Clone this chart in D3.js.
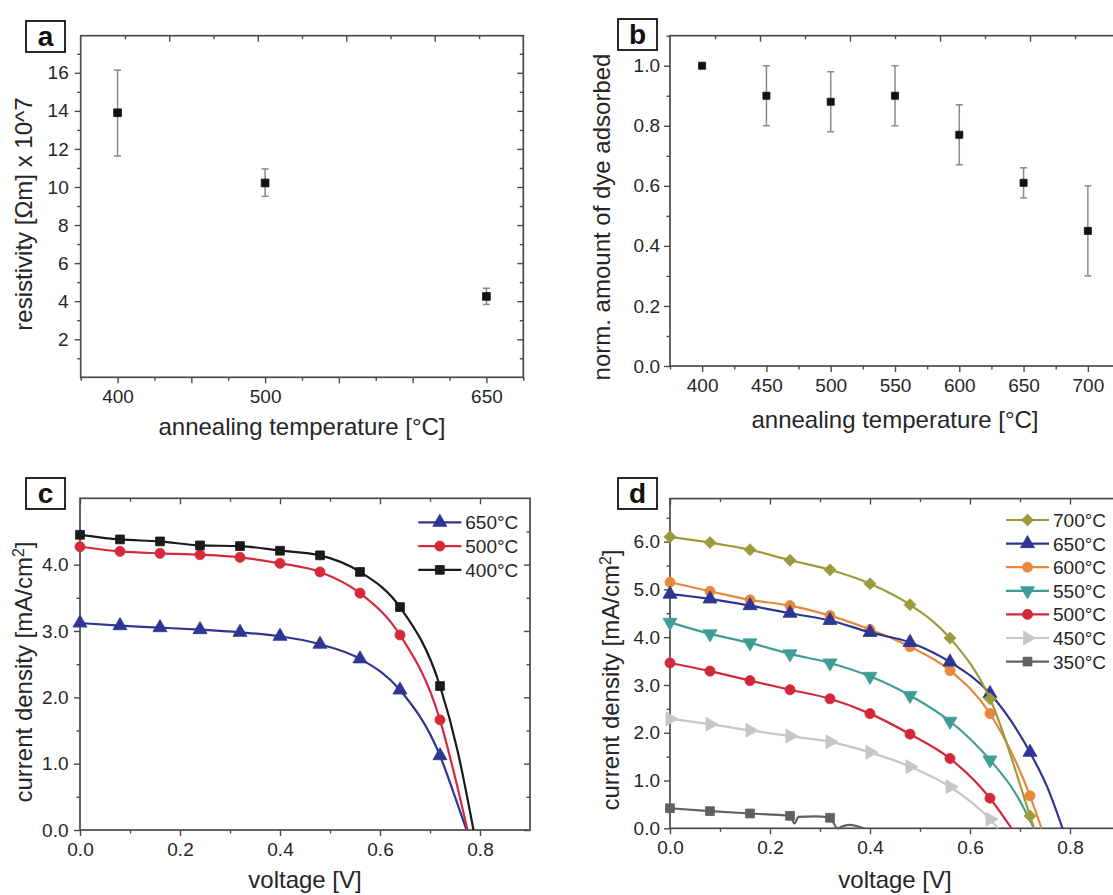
<!DOCTYPE html>
<html><head><meta charset="utf-8">
<script src="https://cdn.jsdelivr.net/npm/d3@7"></script>
<style>
body{margin:0;background:#fff;}
svg{display:block;font-family:"Liberation Sans",Arial,Helvetica,sans-serif;}
</style></head><body>
<svg id="chart" width="1113" height="895"></svg>
<script>
// ---------- Panel a : resistivity ----------
const aTemps = [400, 500, 650];
const aResist = [13.9, 10.21, 4.25];
const aErrLow = [11.63, 9.51, 3.83];
const aErrHigh = [16.14, 10.95, 4.68];
const aXTicks = [400, 450, 500, 550, 600, 650];
const aXLabels = ["400", "", "500", "", "", "650"];
const aYTicks = [2, 4, 6, 8, 10, 12, 14, 16];

// ---------- Panel b : dye adsorbed ----------
const bTemps = [400, 450, 500, 550, 600, 650, 700];
const bDye = [1.0, 0.90, 0.88, 0.90, 0.77, 0.61, 0.45];
const bErrLow = [1.0, 0.80, 0.78, 0.80, 0.67, 0.56, 0.30];
const bErrHigh = [1.0, 1.0, 0.98, 1.0, 0.87, 0.66, 0.60];
const bXTicks = [400, 450, 500, 550, 600, 650, 700];
const bYTicks = [0, 0.2, 0.4, 0.6, 0.8, 1.0];

// ---------- Panel c : J-V curves ----------
const cVolt = [0, 0.08, 0.16, 0.24, 0.32, 0.40, 0.48, 0.56, 0.64, 0.72];
const c400 = [4.45, 4.38, 4.35, 4.29, 4.28, 4.21, 4.14, 3.89, 3.36, 2.17];
const c500 = [4.27, 4.20, 4.17, 4.15, 4.11, 4.02, 3.89, 3.57, 2.94, 1.66];
const c650 = [3.12, 3.08, 3.05, 3.02, 2.98, 2.92, 2.80, 2.58, 2.11, 1.12];
const c400Tail = [[0.755, 1.20], [0.787, 0]];
const c500Tail = [[0.75, 0.80], [0.775, 0]];
const c650Tail = [[0.75, 0.50], [0.773, 0]];
const cXTicks = [0, 0.2, 0.4, 0.6, 0.8];
const cYTicks = [0, 1, 2, 3, 4];

// ---------- Panel d : J-V curves ----------
const dVolt = [0, 0.08, 0.16, 0.24, 0.32, 0.40, 0.48, 0.56, 0.64, 0.72];
const d700 = [6.10, 5.98, 5.83, 5.61, 5.41, 5.12, 4.68, 3.98, 2.71, 0.26];
const d650 = [4.90, 4.80, 4.66, 4.50, 4.35, 4.10, 3.89, 3.48, 2.82, 1.59];
const d600 = [5.15, 4.96, 4.78, 4.66, 4.45, 4.16, 3.80, 3.30, 2.40, 0.68];
const d550 = [4.31, 4.07, 3.88, 3.65, 3.46, 3.18, 2.78, 2.24, 1.43];
const d500 = [3.46, 3.29, 3.09, 2.90, 2.71, 2.40, 1.97, 1.46, 0.63];
const d450 = [2.29, 2.18, 2.05, 1.93, 1.81, 1.59, 1.29, 0.87, 0.19];
const d350 = [0.42, 0.36, 0.31, 0.26, 0.22];
const d700Tail = [[0.728, 0]];
const d650Tail = [[0.755, 0.85], [0.785, 0]];
const d600Tail = [[0.743, 0]];
const d550Tail = [[0.69, 0.75], [0.728, 0]];
const d500Tail = [[0.683, 0]];
const d450Tail = [[0.656, 0]];
const d350Extra = [[0.249, 0.10], [0.257, 0.24], [0.29, 0.25], [0.335, 0], [0.345, 0.04], [0.36, 0.07], [0.372, 0.05], [0.388, 0]];
const dXTicks = [0, 0.2, 0.4, 0.6, 0.8];
const dYTicks = [0, 1, 2, 3, 4, 5, 6];

// ---------- drawing ----------
const svg = d3.select("#chart");
svg.append("rect").attr("width", 1113).attr("height", 895).attr("fill", "#fff");
const AXIS = "#4a4a4a", TXT = "#262626";
const TICKFONT = 19, TITLEFONT = 24;

function styleAxis(sel) {
  sel.select(".domain").remove();
  sel.selectAll(".tick line").attr("stroke", AXIS).attr("stroke-width", 1.4);
  sel.selectAll(".tick text").attr("fill", TXT).style("font-size", TICKFONT + "px");
}
function range(a, b, s) { const r = []; for (let v = a; v <= b + 1e-9; v += s) r.push(+v.toFixed(4)); return r; }

function panel(cfg) {
  const g = svg.append("g");
  const x = d3.scaleLinear().domain(cfg.xDomain).range([cfg.left, cfg.right]);
  const y = d3.scaleLinear().domain(cfg.yDomain).range([cfg.bottom, cfg.top]);
  // bottom
  g.append("g").attr("transform", `translate(0,${cfg.bottom})`)
    .call(d3.axisBottom(x).tickValues(cfg.xMajor).tickSize(6).tickPadding(6.5).tickFormat(cfg.xFmt)).call(styleAxis);
  g.append("g").attr("transform", `translate(0,${cfg.bottom})`)
    .call(d3.axisBottom(x).tickValues(cfg.xMinor).tickSize(3.5).tickFormat("")).call(styleAxis);
  // left
  g.append("g").attr("transform", `translate(${cfg.left},0)`)
    .call(d3.axisLeft(y).tickValues(cfg.yMajor).tickSize(6).tickPadding(cfg.yPad).tickFormat(cfg.yFmt)).call(styleAxis);
  g.append("g").attr("transform", `translate(${cfg.left},0)`)
    .call(d3.axisLeft(y).tickValues(cfg.yMinor).tickSize(3.5).tickFormat("")).call(styleAxis);
  // right (inward)
  g.append("g").attr("transform", `translate(${cfg.right},0)`)
    .call(d3.axisRight(y).tickValues(cfg.yMajor).tickSize(-6).tickFormat("")).call(styleAxis);
  g.append("g").attr("transform", `translate(${cfg.right},0)`)
    .call(d3.axisRight(y).tickValues(cfg.yMinor).tickSize(-3.5).tickFormat("")).call(styleAxis);
  // top (inward)
  if (cfg.topMirror) {
    g.append("g").attr("transform", `translate(0,${cfg.top})`)
      .call(d3.axisTop(x).tickValues(cfg.xMajor).tickSize(-6).tickFormat("")).call(styleAxis);
    g.append("g").attr("transform", `translate(0,${cfg.top})`)
      .call(d3.axisTop(x).tickValues(cfg.xMinor).tickSize(-3.5).tickFormat("")).call(styleAxis);
  } else {
    const t = d3.scaleLinear().domain([0, 10]).range([cfg.left, cfg.right]);
    g.append("g").attr("transform", `translate(0,${cfg.top})`)
      .call(d3.axisTop(t).tickValues([2, 4, 6, 8]).tickSize(-6).tickFormat("")).call(styleAxis);
    g.append("g").attr("transform", `translate(0,${cfg.top})`)
      .call(d3.axisTop(t).tickValues([1, 3, 5, 7, 9]).tickSize(-3.5).tickFormat("")).call(styleAxis);
  }
  // frame
  g.append("rect").attr("x", cfg.left).attr("y", cfg.top)
    .attr("width", cfg.right - cfg.left).attr("height", cfg.bottom - cfg.top)
    .attr("fill", "none").attr("stroke", AXIS).attr("stroke-width", 1.7);
  // titles
  g.append("text").attr("x", (cfg.left + cfg.right) / 2).attr("y", cfg.xTitleY)
    .attr("text-anchor", "middle").attr("fill", TXT).style("font-size", TITLEFONT + "px").text(cfg.xTitle);
  const yt = g.append("text").attr("transform", `translate(${cfg.yTitleX},${cfg.yTitleCY}) rotate(-90)`)
    .attr("text-anchor", "middle").attr("fill", TXT).style("font-size", TITLEFONT + "px");
  cfg.yTitle(yt);
  // panel letter
  g.append("rect").attr("x", cfg.box[0]).attr("y", cfg.box[1]).attr("width", 39).attr("height", 31)
    .attr("fill", "#fff").attr("stroke", "#111").attr("stroke-width", 1.8);
  g.append("text").attr("x", cfg.box[0] + 19.5).attr("y", cfg.box[1] + 25).attr("text-anchor", "middle")
    .attr("fill", "#111").style("font-size", "28px").style("font-weight", "bold").text(cfg.letter);
  return { g, x, y };
}

function jTitle(t) {
  t.append("tspan").text("current density [mA/cm");
  t.append("tspan").attr("baseline-shift", "super").style("font-size", "16px").text("2");
  t.append("tspan").text("]");
}

const sym = {
  square: { type: d3.symbolSquare, rot: 0, size: 78 },
  circle: { type: d3.symbolCircle, rot: 0, size: 80 },
  up: { type: d3.symbolTriangle, rot: 0, size: 85 },
  down: { type: d3.symbolTriangle, rot: 180, size: 85 },
  right: { type: d3.symbolTriangle, rot: 90, size: 85 },
  diamond: { type: d3.symbolSquare, rot: 45, size: 72 }
};
function marker(g, cx, cy, s, color, sizeOverride) {
  const sd = sym[s];
  g.append("path").attr("d", d3.symbol().type(sd.type).size(sizeOverride || sd.size)())
    .attr("transform", `translate(${cx},${cy}) rotate(${sd.rot})`)
    .attr("fill", color).attr("stroke", color).attr("stroke-width", 0.8);
}

// ---- Panel a ----
const pa = panel({
  left: 80.7, right: 523.3, top: 35.7, bottom: 377.3,
  xDomain: [375, 675], yDomain: [0, 17.95],
  xMajor: aXTicks, xMinor: range(375, 675, 50), xFmt: (d, i) => aXLabels[aXTicks.indexOf(d)],
  yMajor: aYTicks, yMinor: range(1, 17, 2), yFmt: d3.format("d"), yPad: 6,
  topMirror: false,
  xTitle: "annealing temperature [°C]", xTitleY: 435,
  yTitle: t => t.text("resistivity [Ωm] x 10^7"), yTitleX: 32, yTitleCY: 214,
  box: [26, 21], letter: "a"
});
aTemps.forEach((T, i) => {
  const cx = pa.x(T);
  pa.g.append("line").attr("x1", cx).attr("x2", cx).attr("y1", pa.y(aErrLow[i])).attr("y2", pa.y(aErrHigh[i]))
    .attr("stroke", "#8a8a8a").attr("stroke-width", 1.5);
  [aErrLow[i], aErrHigh[i]].forEach(v => pa.g.append("line").attr("x1", cx - 3.5).attr("x2", cx + 3.5)
    .attr("y1", pa.y(v)).attr("y2", pa.y(v)).attr("stroke", "#8a8a8a").attr("stroke-width", 1.5));
  marker(pa.g, cx, pa.y(aResist[i]), "square", "#111", 60);
});

// ---- Panel b ----
const pb = panel({
  left: 670, right: 1120, top: 35.7, bottom: 366,
  xDomain: [375, 725], yDomain: [0, 1.1],
  xMajor: bXTicks, xMinor: range(375, 725, 50), xFmt: d3.format("d"),
  yMajor: bYTicks, yMinor: range(0.1, 1.1, 0.2), yFmt: d3.format(".1f"), yPad: 4,
  topMirror: false,
  xTitle: "annealing temperature [°C]", xTitleY: 428,
  yTitle: t => t.text("norm. amount of dye adsorbed"), yTitleX: 610, yTitleCY: 217,
  box: [618, 19], letter: "b"
});
bTemps.forEach((T, i) => {
  const cx = pb.x(T);
  if (bErrHigh[i] > bErrLow[i]) {
    pb.g.append("line").attr("x1", cx).attr("x2", cx).attr("y1", pb.y(bErrLow[i])).attr("y2", pb.y(bErrHigh[i]))
      .attr("stroke", "#8a8a8a").attr("stroke-width", 1.5);
    [bErrLow[i], bErrHigh[i]].forEach(v => pb.g.append("line").attr("x1", cx - 3.5).attr("x2", cx + 3.5)
      .attr("y1", pb.y(v)).attr("y2", pb.y(v)).attr("stroke", "#8a8a8a").attr("stroke-width", 1.5));
  }
  marker(pb.g, cx, pb.y(bDye[i]), "square", "#111", 50);
});

// ---- line series helper ----
function drawSeries(p, volts, vals, extra, color, shape) {
  const pts = volts.slice(0, vals.length).map((v, i) => [v, vals[i]]).concat(extra).sort((a, b) => a[0] - b[0]);
  const line = d3.line().x(d => p.x(d[0])).y(d => p.y(d[1])).curve(d3.curveMonotoneX);
  p.g.append("path").attr("d", line(pts)).attr("fill", "none").attr("stroke", color).attr("stroke-width", 2.2);
  vals.forEach((v, i) => marker(p.g, p.x(volts[i]), p.y(v), shape, color));
}
function legend(p, items, x0, y0, dy) {
  items.forEach((it, i) => {
    const yy = y0 + i * dy;
    p.g.append("line").attr("x1", x0).attr("x2", x0 + 43).attr("y1", yy).attr("y2", yy)
      .attr("stroke", it.color).attr("stroke-width", 2.2);
    marker(p.g, x0 + 21.5, yy, it.shape, it.color);
    p.g.append("text").attr("x", x0 + 47).attr("y", yy + 7).attr("fill", TXT)
      .style("font-size", "19px").text(it.label);
  });
}

// ---- Panel c ----
const pc = panel({
  left: 80, right: 530, top: 498.3, bottom: 830,
  xDomain: [0, 0.9], yDomain: [0, 5],
  xMajor: cXTicks, xMinor: [0.1, 0.3, 0.5, 0.7], xFmt: d3.format(".1f"),
  yMajor: cYTicks, yMinor: [0.5, 1.5, 2.5, 3.5, 4.5], yFmt: d3.format(".1f"), yPad: 5.5,
  topMirror: true,
  xTitle: "voltage [V]", xTitleY: 888,
  yTitle: jTitle, yTitleX: 32, yTitleCY: 672,
  box: [26, 478], letter: "c"
});
const cBlue = "#2e3592", cRed = "#d62a3c", cBlack = "#1a1a1a";
drawSeries(pc, cVolt, c650, c650Tail, cBlue, "up");
drawSeries(pc, cVolt, c500, c500Tail, cRed, "circle");
drawSeries(pc, cVolt, c400, c400Tail, cBlack, "square");
legend(pc, [
  { label: "650°C", color: cBlue, shape: "up" },
  { label: "500°C", color: cRed, shape: "circle" },
  { label: "400°C", color: cBlack, shape: "square" }
], 418.3, 522.3, 23.8);

// ---- Panel d ----
const pd = panel({
  left: 670, right: 1120, top: 498.6, bottom: 828.3,
  xDomain: [0, 0.9], yDomain: [0, 6.9],
  xMajor: dXTicks, xMinor: [0.1, 0.3, 0.5, 0.7], xFmt: d3.format(".1f"),
  yMajor: dYTicks, yMinor: [0.5, 1.5, 2.5, 3.5, 4.5, 5.5, 6.5], yFmt: d3.format(".1f"), yPad: 4,
  topMirror: true,
  xTitle: "voltage [V]", xTitleY: 888,
  yTitle: jTitle, yTitleX: 619, yTitleCY: 680,
  box: [618, 478], letter: "d"
});
const col = { c700: "#9c9b3c", c650: "#2e3592", c600: "#e9883c", c550: "#3f9d95", c500: "#d2283b", c450: "#c6c6c6", c350: "#606060" };
drawSeries(pd, dVolt, d350, d350Extra, col.c350, "square");
drawSeries(pd, dVolt, d450, d450Tail, col.c450, "right");
drawSeries(pd, dVolt, d500, d500Tail, col.c500, "circle");
drawSeries(pd, dVolt, d550, d550Tail, col.c550, "down");
drawSeries(pd, dVolt, d600, d600Tail, col.c600, "circle");
drawSeries(pd, dVolt, d650, d650Tail, col.c650, "up");
drawSeries(pd, dVolt, d700, d700Tail, col.c700, "diamond");
legend(pd, [
  { label: "700°C", color: col.c700, shape: "diamond" },
  { label: "650°C", color: col.c650, shape: "up" },
  { label: "600°C", color: col.c600, shape: "circle" },
  { label: "550°C", color: col.c550, shape: "down" },
  { label: "500°C", color: col.c500, shape: "circle" },
  { label: "450°C", color: col.c450, shape: "right" },
  { label: "350°C", color: col.c350, shape: "square" }
], 1006, 520, 23.6);
</script></body></html>
